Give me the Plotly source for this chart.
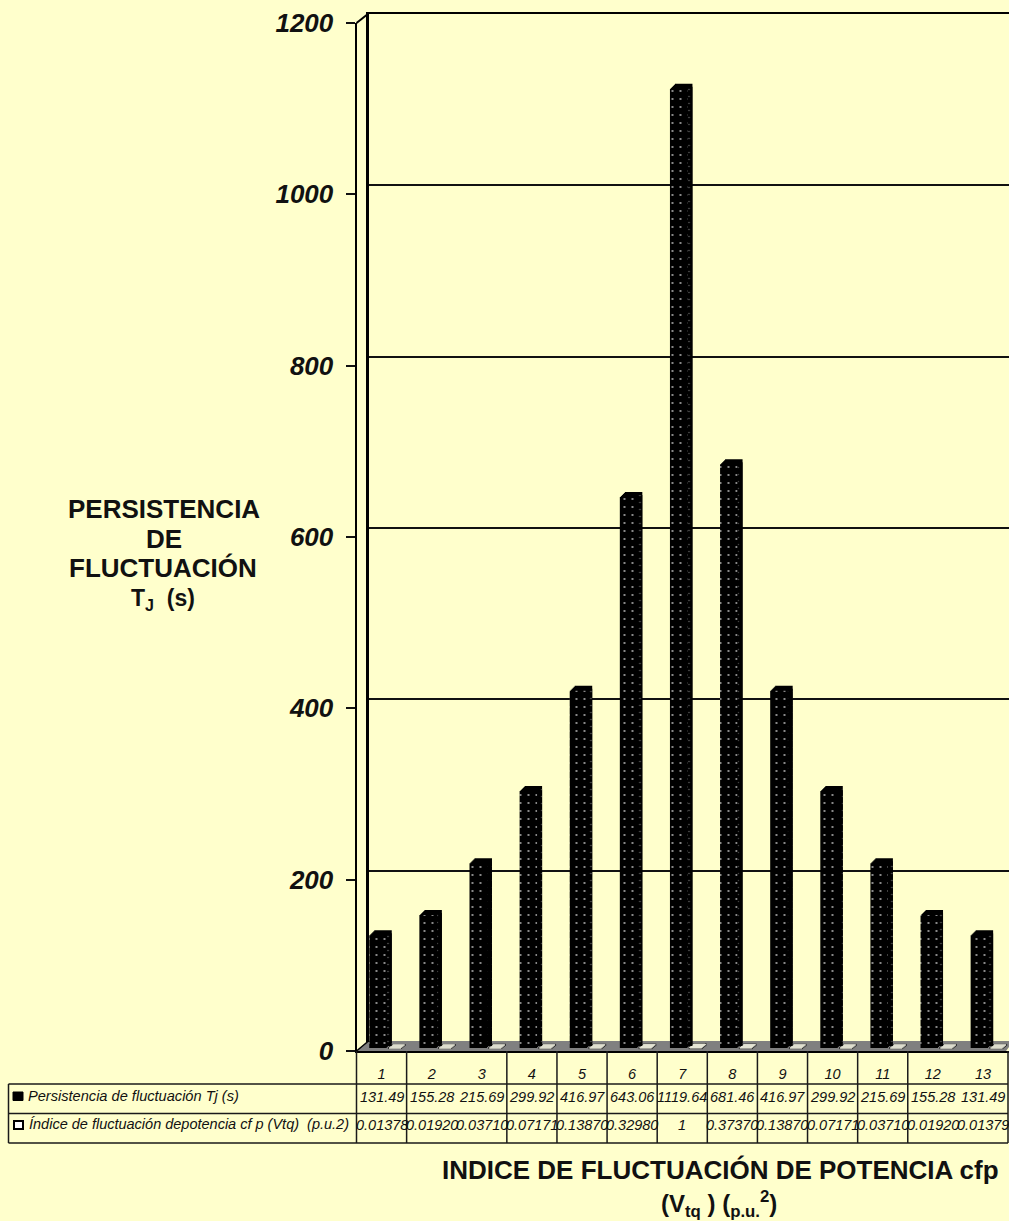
import plotly.graph_objects as go

categories = list(range(1, 14))
persistencia = [131.49, 155.28, 215.69, 299.92, 416.97, 643.06, 1119.64, 681.46, 416.97, 299.92, 215.69, 155.28, 131.49]
indice = [0.01378, 0.0192, 0.0371, 0.0717, 0.1387, 0.3298, 1, 0.3737, 0.1387, 0.0717, 0.0371, 0.0192, 0.01378]
persistencia_labels = ["131.49", "155.28", "215.69", "299.92", "416.97", "643.06", "1119.64", "681.46", "416.97", "299.92", "215.69", "155.28", "131.49"]
indice_labels = ["0.01378", "0.01920", "0.03710", "0.07171", "0.13870", "0.32980", "1", "0.37370", "0.13870", "0.07171", "0.03710", "0.01920", "0.01379"]
y_ticks = [0, 200, 400, 600, 800, 1000, 1200]
series_names = ["Persistencia de fluctuación Tj (s)", "Índice de fluctuación depotencia cf p (Vtq)  (p.u.2)"]

W, H = 1009, 1221
BG = "#FFFFCC"
FONT = "Liberation Sans"
X0, Y0, YT = 356.5, 1051, 23
CELL = (W - 1 - X0) / 13
UNIT = (Y0 - YT) / 1200.0

def px(x):
    return x / W

def py(y):
    return 1 - y / H

fig = go.Figure()

# back wall: anchors the gridlines
fig.add_trace(go.Scatter(x=categories, y=persistencia, mode="markers", marker=dict(opacity=0, size=1), hoverinfo="skip", xaxis="x", yaxis="y"))

# helper for pixel-based offsets of bars
def bar(values, dx, wpx, dy_px, **kw):
    return go.Bar(x=categories, y=values, base=[dy_px / UNIT] * len(values), offset=dx / CELL, width=wpx / CELL,
                  xaxis="x2", yaxis="y2", hoverinfo="skip", **kw)

BAR_L = -12.3
BAR_W = 17.5
DEPTH = 5

# series 2: small flat boxes on the floor
for colour, lw, in (("#333333", 2.2), ("#E8E8D8", 1.0)):
    for k in range(0, 4):
        fig.add_trace(bar(indice, 7.5 + k * 1.2, 12, 3 + k * 1.0, marker=dict(color=colour, line=dict(color=colour, width=lw))))

# series 1: extruded black columns, rearmost layer first
for k in range(DEPTH, 0, -1):
    fig.add_trace(bar(persistencia, BAR_L + k, BAR_W, 3 + k, marker=dict(color="#000000", line=dict(width=0))))
# side face dots
fig.add_trace(bar(persistencia, BAR_L + BAR_W, DEPTH, 3 + 2, marker=dict(color="#000000", line=dict(width=0),
              pattern=dict(shape=".", size=7, solidity=0.04, fgcolor="#666666", bgcolor="#000000"))))
# front face
fig.add_trace(bar(persistencia, BAR_L, BAR_W, 3, marker=dict(color="#000000", line=dict(width=0),
              pattern=dict(shape=".", size=8, solidity=0.04, fgcolor="#C8C8C8", bgcolor="#000000"))))

shapes = []
def line(x0, y0, x1, y1, w=1.5, c="#1a1a1a", layer="above"):
    shapes.append(dict(type="line", xref="paper", yref="paper", x0=px(x0), y0=py(y0), x1=px(x1), y1=py(y1),
                       line=dict(color=c, width=w), layer=layer))

# floor
shapes.append(dict(type="path", xref="paper", yref="paper", layer="below", line=dict(width=0), fillcolor="#808080",
                   path=f"M {px(X0)} {py(Y0)} L {px(368.5)} {py(1041)} L {px(W)} {py(1041)} L {px(W)} {py(1047)} L {px(1006)} {py(Y0)} Z"))
# side wall top diagonal and floor diagonal
line(X0, YT, 368.5, 13.5, 2, "#000000")
line(X0, Y0, 368.5, 1041, 1.5, "#000000")
# table
TBL_L = 8.5
R1, R2, R3 = 1084, 1113.5, 1143
for yy in (R1, R2, R3):
    line(TBL_L, yy, 1008, yy)
line(TBL_L, R1, TBL_L, R3)
skip = {2, 12}
for i in range(0, 14):
    if i in skip:
        continue
    xx = X0 + i * CELL
    line(xx, Y0, xx, R3)
# legend keys
shapes.append(dict(type="rect", xref="paper", yref="paper", x0=px(13), x1=px(23), y0=py(1100.5), y1=py(1092),
                   fillcolor="#000000", line=dict(color="#000000", width=1)))
shapes.append(dict(type="rect", xref="paper", yref="paper", x0=px(14), x1=px(23), y0=py(1129), y1=py(1121),
                   fillcolor="#FFFFFF", line=dict(color="#000000", width=2)))

anns = []
def text(x, y, s, size, bold=False, italic=False, anchor="center", xref="paper"):
    t = s
    if bold:
        t = f"<b>{t}</b>"
    if italic:
        t = f"<i>{t}</i>"
    anns.append(dict(xref=xref, yref="paper", x=x, y=py(y), text=t, showarrow=False, xanchor=anchor, yanchor="middle",
                     font=dict(family=FONT, size=size, color="#111111"), align="center"))

for c, a, b in zip(categories, persistencia_labels, indice_labels):
    text(c, 1097, a, 14.5, italic=True, xref="x2")
    text(c, 1125, b, 14.5, italic=True, xref="x2")
text(px(26), 1096, series_names[0], 14.6, italic=True, anchor="left")
text(px(27), 1124, series_names[1], 14.5, italic=True, anchor="left")

# y axis title
text(px(164), 509, "PERSISTENCIA", 26, bold=True)
text(px(164), 539, "DE", 26, bold=True)
text(px(163), 568, "FLUCTUACIÓN", 26, bold=True)
text(px(163), 599, "T<sub>J</sub>  (s)", 23, bold=True)
# x axis title
text(px(720), 1170, "INDICE DE FLUCTUACIÓN DE POTENCIA cfp", 26, bold=True)
text(px(719), 1204, "(V<sub>tq</sub> ) (<sub>p.u.</sub><sup>2</sup>)", 24, bold=True)

fig.update_layout(
    template="none",
    width=W, height=H, autosize=False,
    margin=dict(l=0, r=0, t=0, b=0, pad=0),
    paper_bgcolor=BG, plot_bgcolor="rgba(0,0,0,0)",
    showlegend=False, barmode="overlay",
    shapes=shapes, annotations=anns,
    xaxis=dict(domain=[px(368.5), 1], range=[0.5, 0.5 + (W - 368.5) / CELL], showgrid=False, zeroline=False, automargin=False,
               showticklabels=False, ticks="", showline=True, linecolor="#000000", linewidth=2, side="top", mirror=False, fixedrange=True, anchor="y"),
    yaxis=dict(domain=[py(1042), py(14)], range=[0, 1200], tickvals=y_ticks, showgrid=True, gridcolor="#111111", gridwidth=2, automargin=False,
               zeroline=False, showticklabels=False, ticks="", showline=True, linecolor="#000000", linewidth=2.5,
               mirror=False, fixedrange=True, anchor="x"),
    xaxis2=dict(domain=[px(X0), 1], range=[0.5, 0.5 + (W - X0) / CELL], tickvals=categories, ticktext=[str(c) for c in categories],
                tickfont=dict(family=FONT, size=14.5, color="#111111", style="italic"), ticks="outside", ticklen=9, tickcolor="rgba(0,0,0,0)",
                showgrid=False, zeroline=False, showline=True, linecolor="#000000", linewidth=1.5, fixedrange=True, anchor="y2",
                tickangle=0, automargin=False),
    yaxis2=dict(domain=[py(Y0), py(YT)], range=[0, 1200], tickvals=y_ticks, showgrid=False, zeroline=False, automargin=False,
                tickfont=dict(family=FONT, size=26, color="#111111", weight="bold", style="italic"),
                ticks="outside", ticklen=9, tickcolor="#111111", tickwidth=1.5, ticklabelstandoff=7,
                showline=True, linecolor="#000000", linewidth=2, fixedrange=True, anchor="x2"),
)

fig.write_html("out.html", config=dict(displayModeBar=False),
               post_script="document.body.style.margin='0';document.body.style.overflow='hidden';")
